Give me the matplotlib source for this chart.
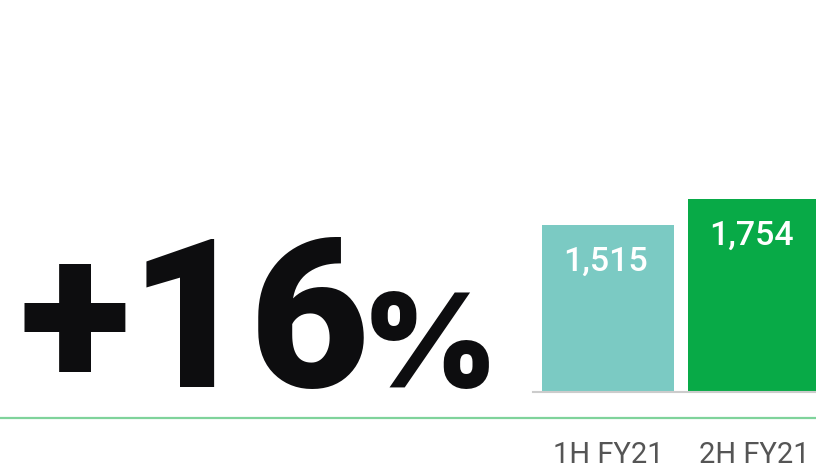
import matplotlib
matplotlib.use("Agg")
import matplotlib.pyplot as plt
from matplotlib.lines import Line2D

categories = ["1H FY21", "2H FY21"]
values = [1515, 1754]
value_labels = ["1,515", "1,754"]
bar_colors = ["#7bcac3", "#08aa47"]
headline = "+16"
headline_suffix = "%"

W, H = 816, 469
fig = plt.figure(figsize=(W / 100, H / 100), dpi=100)
fig.patch.set_facecolor("white")

def fx(px):
    return px / W

def fy(py):
    return 1 - py / H

ax_left, ax_right = 533, 816
base_y, top_y = 392, 0
ax = fig.add_axes([fx(ax_left), fy(base_y), fx(ax_right - ax_left), (base_y - top_y) / H])
ax.set_facecolor("none")
x = list(range(len(categories)))
ax.bar(x, values, width=0.904, color=bar_colors, zorder=2)
ax.set_xlim(-0.514, 1.425)
ax.set_ylim(0, 392 * 1754 / 193)
for xi, v, lab in zip(x, values, value_labels):
    ax.annotate(lab, (xi, v), xytext=(-2, -15), textcoords="offset points",
                ha="center", va="top", color="white", fontsize=24.5,
                family="Roboto", fontweight="medium", zorder=3)
for s in ["top", "right", "left"]:
    ax.spines[s].set_visible(False)
ax.spines["bottom"].set_color("#cccccc")
ax.spines["bottom"].set_linewidth(1.5)
ax.set_yticks([])
ax.set_xticks(x)
ax.set_xticklabels(categories, fontsize=21, color="#555555", family="Roboto")
ax.tick_params(axis="x", length=0, pad=35)

fig.add_artist(Line2D([0, 1], [fy(417.5), fy(417.5)], color="#7fd39b", lw=1.6,
                      transform=fig.transFigure))

fig.text(fx(20), fy(387), headline, fontsize=149, fontweight="black", family="Roboto",
         color="#0d0d0f", ha="left", va="baseline")
fig.text(fx(362), fy(387), headline_suffix, fontsize=94, fontweight="black", family="Inter",
         color="#0d0d0f", ha="left", va="baseline")

fig.savefig("out.png", dpi=100, facecolor="white")
